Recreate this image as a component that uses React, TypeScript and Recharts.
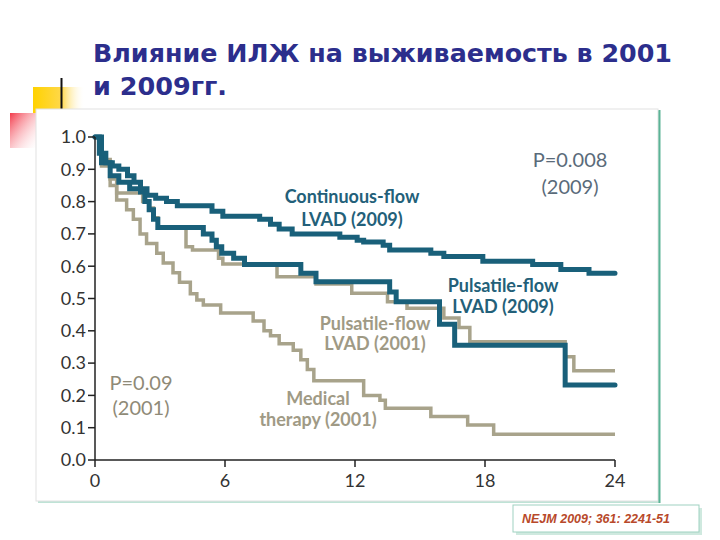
import { LineChart, Line, XAxis, YAxis } from 'recharts';

// Kaplan-Meier survival, months since enrollment
const cf2009Months = [0, 0.2, 0.5, 0.8, 1.1, 1.5, 1.8, 2.1, 2.4, 2.8, 3.3, 3.8, 5.4, 5.9, 7.6, 8.1, 8.5, 9.1, 11.3, 12.1, 12.4, 13.3, 13.6, 15.5, 16.1, 17.9, 20.2, 21.5, 22.8, 24];
const cf2009Survival = [1.0, 0.95, 0.92, 0.91, 0.9, 0.88, 0.86, 0.84, 0.82, 0.81, 0.8, 0.787, 0.77, 0.755, 0.745, 0.73, 0.715, 0.7, 0.69, 0.68, 0.675, 0.665, 0.65, 0.64, 0.63, 0.615, 0.605, 0.59, 0.578, 0.578];

const pf2009Months = [0, 0.3, 0.7, 1.1, 1.6, 2.1, 2.3, 2.5, 2.7, 2.9, 5.0, 5.4, 5.6, 5.85, 6.4, 6.9, 9.5, 10.2, 13.6, 13.9, 15.9, 16.6, 21.7, 24];
const pf2009Survival = [1.0, 0.92, 0.88, 0.86, 0.84, 0.83, 0.8, 0.775, 0.745, 0.72, 0.7, 0.68, 0.66, 0.64, 0.625, 0.605, 0.578, 0.552, 0.52, 0.49, 0.42, 0.355, 0.232, 0.232];

const pf2001Months = [0, 0.3, 0.7, 1.0, 2.2, 2.5, 2.7, 2.9, 4.2, 4.5, 5.7, 5.9, 8.4, 10.2, 11.85, 13.5, 14.4, 16.1, 16.8, 17.3, 21.7, 22.1, 24];
const pf2001Survival = [1.0, 0.93, 0.87, 0.827, 0.8, 0.78, 0.75, 0.72, 0.66, 0.65, 0.625, 0.607, 0.567, 0.545, 0.516, 0.49, 0.47, 0.44, 0.41, 0.366, 0.32, 0.276, 0.276];

const med2001Months = [0, 0.3, 0.7, 1.0, 1.46, 1.77, 2.08, 2.38, 2.85, 3.15, 3.6, 3.9, 4.4, 4.7, 5.0, 5.8, 7.3, 7.8, 8.1, 8.5, 9.15, 9.5, 9.8, 10.1, 12.4, 13.15, 13.4, 15.5, 17.2, 18.4, 24];
const med2001Survival = [1.0, 0.91, 0.85, 0.805, 0.775, 0.745, 0.7, 0.67, 0.64, 0.61, 0.58, 0.55, 0.515, 0.495, 0.48, 0.455, 0.43, 0.4, 0.385, 0.36, 0.34, 0.31, 0.28, 0.245, 0.2, 0.185, 0.16, 0.135, 0.108, 0.08, 0.08];

const xTicks = [0, 6, 12, 18, 24];
const yTicks = [0, 0.1, 0.2, 0.3, 0.4, 0.5, 0.6, 0.7, 0.8, 0.9, 1.0];

const toPoints = (months: number[], survival: number[]) =>
  months.map((m, i) => ({ month: m, survival: survival[i] }));

const TEAL = '#19607a';
const TAN = '#a8a38b';
const FONT = 'Lato, "Noto Sans", sans-serif';

export default function App() {
  const cf2009 = toPoints(cf2009Months, cf2009Survival);
  const pf2009 = toPoints(pf2009Months, pf2009Survival);
  const pf2001 = toPoints(pf2001Months, pf2001Survival);
  const med2001 = toPoints(med2001Months, med2001Survival);

  const tickStyle = { fill: '#333', fontSize: 18, fontFamily: FONT };

  return (
    <div style={{ position: 'fixed', left: 0, top: 0, width: 720, height: 540, background: '#fff', overflow: 'hidden' }}>
      <svg width={720} height={540} style={{ position: 'absolute', left: 0, top: 0 }}>
        <defs>
          <linearGradient id="yel" x1="0" y1="0" x2="1" y2="0">
            <stop offset="0" stopColor="#ffd200" />
            <stop offset="0.55" stopColor="#ffd84a" />
            <stop offset="1" stopColor="#fff" stopOpacity="0" />
          </linearGradient>
          <linearGradient id="red" x1="0" y1="0" x2="1" y2="1">
            <stop offset="0" stopColor="#f23a4a" />
            <stop offset="1" stopColor="#fff" stopOpacity="0.2" />
          </linearGradient>
        </defs>
        <rect x={33} y={87} width={52} height={26} fill="url(#yel)" />
        <rect x={10} y={113} width={27} height={35} fill="url(#red)" />
        <line x1={61.5} y1={78} x2={61.5} y2={112} stroke="#111" strokeWidth={2} />
        <rect x={38} y={111} width={622} height={392} fill="#bfe3d6" />
        <rect x={36} y={109} width={622} height={392} fill="#fff" stroke="#e2e2e2" strokeWidth={1} />
        <line x1={659.5} y1={110} x2={659.5} y2={503} stroke="#5cb396" strokeWidth={2} />
        <rect x={516} y={508} width={186} height={27} fill="#cfe9df" />
        <rect x={513} y={505} width={186} height={27} fill="#fff" stroke="#9fd2c1" strokeWidth={1} />
      </svg>

      <div style={{ position: 'absolute', left: 0, top: 0 }}>
        <LineChart width={720} height={540} margin={{ top: 137, right: 105, bottom: 50, left: 35 }}>
          <XAxis
            dataKey="month"
            type="number"
            domain={[0, 24]}
            ticks={xTicks}
            allowDuplicatedCategory={false}
            axisLine={{ stroke: '#222', strokeWidth: 1.5 }}
            tickLine={{ stroke: '#222', strokeWidth: 1.5 }}
            tickSize={7}
            tick={{ ...tickStyle, dy: 5 }}
            height={30}
          />
          <YAxis
            dataKey="survival"
            type="number"
            domain={[0, 1]}
            ticks={yTicks}
            tickFormatter={(v: number) => v.toFixed(1)}
            axisLine={{ stroke: '#222', strokeWidth: 1.5 }}
            tickLine={{ stroke: '#222', strokeWidth: 1.5 }}
            tickSize={7}
            tickMargin={2}
            tick={tickStyle}
            width={60}
          />
          <Line data={med2001} dataKey="survival" type="stepAfter" stroke={TAN} strokeWidth={3.5} dot={false} activeDot={false} isAnimationActive={false} />
          <Line data={pf2001} dataKey="survival" type="stepAfter" stroke={TAN} strokeWidth={3.5} dot={false} activeDot={false} isAnimationActive={false} />
          <Line data={pf2009} dataKey="survival" type="stepAfter" stroke={TEAL} strokeWidth={5} strokeLinecap="round" dot={false} activeDot={false} isAnimationActive={false} />
          <Line data={cf2009} dataKey="survival" type="stepAfter" stroke={TEAL} strokeWidth={5} strokeLinecap="round" dot={false} activeDot={false} isAnimationActive={false} />
        </LineChart>
      </div>

      <svg width={720} height={540} style={{ position: 'absolute', left: 0, top: 0, pointerEvents: 'none' }}>
        <g fontFamily='Tahoma, "DejaVu Sans", sans-serif' fontWeight="bold" fontSize={25} fill="#2c2e8c">
          <text x={93} y={62} textLength={579} lengthAdjust="spacingAndGlyphs">Влияние ИЛЖ на выживаемость в 2001</text>
          <text x={93} y={95} textLength={134} lengthAdjust="spacingAndGlyphs">и 2009гг.</text>
        </g>
        <g fontFamily={FONT} fontSize={20} textAnchor="middle">
          <text x={570} y={167} fill="#5a6b7a">P=0.008</text>
          <text x={570} y={194} fill="#5a6b7a">(2009)</text>
          <text x={141} y={390} fill="#8f8a77">P=0.09</text>
          <text x={141} y={415} fill="#8f8a77">(2001)</text>
        </g>
        <g fontFamily={FONT} fontSize={18} fontWeight="bold" textAnchor="middle">
          <text x={352} y={203} fill="#236079">Continuous-flow</text>
          <text x={352} y={226} fill="#236079">LVAD (2009)</text>
          <text x={503} y={292} fill="#236079">Pulsatile-flow</text>
          <text x={503} y={313} fill="#236079">LVAD (2009)</text>
          <text x={375} y={330} fill="#9f9a85">Pulsatile-flow</text>
          <text x={375} y={350} fill="#9f9a85">LVAD (2001)</text>
          <text x={318} y={405} fill="#9f9a85">Medical</text>
          <text x={318} y={426} fill="#9f9a85">therapy (2001)</text>
        </g>
        <text x={522} y={523} fontFamily='Arial, "Liberation Sans", sans-serif' fontStyle="italic" fontWeight="bold" fontSize={12.5} fill="#b8492a">
          NEJM 2009; 361: 2241-51
        </text>
      </svg>
    </div>
  );
}
